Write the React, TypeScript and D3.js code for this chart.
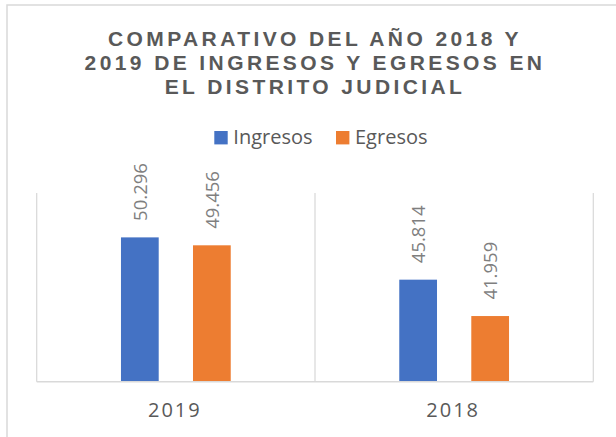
import React from "react";
import * as d3 from "d3";

const WIDTH = 616;
const HEIGHT = 437;

const years = ["2019", "2018"];
const series = ["Ingresos", "Egresos"];
const ingresos = [50.296, 45.814];
const egresos = [49.456, 41.959];
const colors = ["#4472C4", "#ED7D31"];
const titleLines = [
  "COMPARATIVO DEL AÑO 2018 Y",
  "2019 DE INGRESOS Y EGRESOS EN",
  "EL DISTRITO JUDICIAL",
];

const PLOT = { left: 36.7, right: 593.3, top: 193, bottom: 381.7 };
const GRID = "#d9d9d9";
const TEXT = "#595959";

const fmt = (v: number) => v.toFixed(3);

export default function App() {
  const values = [ingresos, egresos];

  const x0 = d3.scaleBand<string>().domain(years).range([PLOT.left, PLOT.right]);
  const x1 = d3
    .scaleBand<string>()
    .domain(series)
    .range([0, x0.bandwidth()])
    .paddingInner(0.476)
    .paddingOuter(1.17);
  const y = d3.scaleLinear().domain([35, 55]).range([PLOT.bottom, PLOT.top]);

  const boundaries = [...years.map((d) => x0(d) as number), PLOT.right];

  return (
    <div style={{ position: "absolute", left: 0, top: 0 }}>
      <svg width={WIDTH} height={HEIGHT} style={{ display: "block" }}>
        {/* chart border */}
        <rect x={7} y={5} width={WIDTH + 20} height={HEIGHT + 20} fill="#fff" stroke={GRID} strokeWidth={1.5} />

        {/* title */}
        <g fontFamily="'Liberation Sans', Arial, sans-serif" fontWeight="bold" fontSize={21} fill={TEXT} letterSpacing={3.4}>
          {titleLines.map((line, i) => (
            <text key={line} x={315} y={46 + i * 24} textAnchor="middle">
              {line}
            </text>
          ))}
        </g>

        {/* legend */}
        <g fontFamily="'Open Sans', sans-serif" fontSize={20} fill={TEXT}>
          {series.map((s, i) => {
            const lx = i === 0 ? 214.3 : 336;
            return (
              <g key={s} transform={`translate(${lx},131)`}>
                <rect width={13.4} height={13.4} fill={colors[i]} />
                <text x={19} y={13.4}>
                  {s}
                </text>
              </g>
            );
          })}
        </g>

        {/* vertical gridlines at category boundaries */}
        {boundaries.map((bx, i) => (
          <line key={i} x1={bx} x2={bx} y1={PLOT.top} y2={PLOT.bottom} stroke={GRID} strokeWidth={1.25} />
        ))}

        {/* bars */}
        {years.map((yr, gi) => (
          <g key={yr} transform={`translate(${x0(yr)},0)`}>
            {series.map((s, si) => {
              const v = values[si][gi];
              const bx = x1(s) as number;
              const cx = bx + x1.bandwidth() / 2;
              return (
                <g key={s}>
                  <rect x={bx} y={y(v)} width={x1.bandwidth()} height={PLOT.bottom - y(v)} fill={colors[si]} />
                  <text
                    transform={`translate(${cx},${y(v) - 16.5}) rotate(-90)`}
                    dy="0.36em"
                    fontFamily="'Open Sans', sans-serif"
                    fontSize={18.5}
                    fill="#7f7f7f"
                  >
                    {fmt(v)}
                  </text>
                </g>
              );
            })}
          </g>
        ))}

        {/* baseline */}
        <line x1={PLOT.left} x2={PLOT.right} y1={PLOT.bottom} y2={PLOT.bottom} stroke={GRID} strokeWidth={1.5} />

        {/* category labels */}
        {years.map((yr) => (
          <text
            key={yr}
            x={(x0(yr) as number) + x0.bandwidth() / 2 - 1}
            y={416.7}
            textAnchor="middle"
            fontFamily="'Open Sans', sans-serif"
            fontSize={20}
            letterSpacing={2}
            fill={TEXT}
          >
            {yr}
          </text>
        ))}
      </svg>
    </div>
  );
}
